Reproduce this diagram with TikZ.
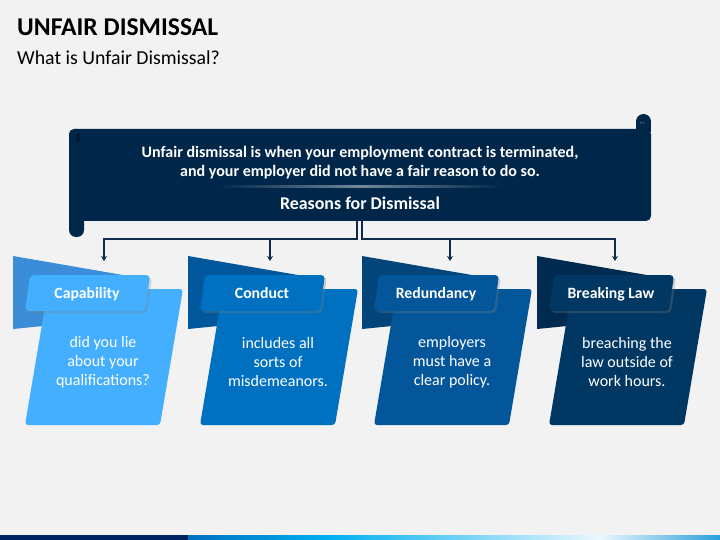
\documentclass[tikz,border=0pt]{standalone}
\usepackage{fontspec}
\setmainfont{Carlito}
\usetikzlibrary{arrows.meta,shadows}

\definecolor{bggray}{HTML}{F2F2F2}
\definecolor{navy}{HTML}{002749}
\definecolor{linenavy}{HTML}{0E2A4C}
\definecolor{backA}{HTML}{3A8DD6}
\definecolor{frontA}{HTML}{44AFFF}
\definecolor{backB}{HTML}{00579B}
\definecolor{frontB}{HTML}{0071C1}
\definecolor{backC}{HTML}{01457A}
\definecolor{frontC}{HTML}{04569A}
\definecolor{backD}{HTML}{002A4F}
\definecolor{frontD}{HTML}{003763}
\definecolor{barnavy}{HTML}{002060}
\definecolor{barblue}{HTML}{0070C0}
\definecolor{barcyan}{HTML}{00B0F0}
\definecolor{barpale}{HTML}{EAF7FD}
\definecolor{barend}{HTML}{2A9FDB}

\begin{document}
\begin{tikzpicture}[x=1pt,y=-1pt,
    conn/.style={draw=linenavy, line width=2pt, -{Stealth[length=5pt,width=6pt]}},
    lbltext/.style={anchor=base, text=white, font=\fontsize{15.7}{18}\selectfont\bfseries},
    bodytext/.style={text=white, align=center, font=\fontsize{16}{19}\selectfont},
    bantext/.style={anchor=base, text=white, font=\fontsize{16}{19}\selectfont\bfseries}]
    \fill[bggray] (0,0) rectangle (720,540);
    \useasboundingbox (0,0) rectangle (720,540);

    % title
    \node[anchor=base west, inner sep=0, font=\fontsize{25.6}{30}\selectfont\bfseries] (title) at (17,36) {UNFAIR DISMISSAL};
    \node[anchor=base west, inner sep=0, font=\fontsize{19.8}{24}\selectfont] (subtitle) at (17,65) {What is Unfair Dismissal?};

    % banner (scroll)
    \fill[navy, rounded corners=5pt] (69,129) rectangle (651,221);
    \fill[navy, rounded corners=7pt] (69,129) rectangle (84,237);
    \fill[navy] (643.5,121.5) circle (7.5);
    \fill[navy] (636,121.5) rectangle (651,132);
    \fill[black!60!navy, opacity=0.5] (78,138) ellipse (2.5 and 4.5);
    \draw[white!30!navy, line width=0.6pt] (640,124) arc[start angle=180, end angle=360, radius=2];
    \node[bantext] (intro1) at (360,158) {Unfair dismissal is when your employment contract is terminated,};
    \node[bantext] (intro2) at (360,177) {and your employer did not have a fair reason to do so.};
    \shade[left color=navy, right color=navy, middle color=white!45!navy] (217,185.5) rectangle (503,187.5);
    \node[bantext, font=\fontsize{17.9}{21}\selectfont\bfseries] (reasons) at (360,210) {Reasons for Dismissal};

    % columns
    \foreach \x/\n/\lbl/\txt/\cb/\cf in {
        13/1/Capability/{did you lie\\about your\\qualifications?}/backA/frontA,
        188/2/Conduct/{includes all\\sorts of\\misdemeanors.}/backB/frontB,
        362/3/Redundancy/{employers\\must have a\\clear policy.}/backC/frontC,
        537/4/Breaking Law/{breaching the\\law outside of\\work hours.}/backD/frontD}{
        \fill[\cb] (\x,256) -- (\x+130,278.5) -- (\x+130,316) -- (\x,329) -- cycle;
        \fill[\cf, rounded corners=3pt] (\x+35,289) -- (\x+170,289) -- (\x+147,425) -- (\x+12,425) -- cycle;
        \fill[\cf, rounded corners=4pt, drop shadow={shadow xshift=2pt, shadow yshift=-2pt, opacity=0.3}]
            (\x+17,275) -- (\x+137,275) -- (\x+132,311) -- (\x+12,311) -- cycle;
        \node[lbltext] (label\n) at (\x+74,298) {\lbl};
        \node[bodytext] (body\n) at (\x+90,362) {\txt};
    }

    % connectors
    \coordinate (stemL) at (357,221);
    \coordinate (stemR) at (362,221);
    \coordinate (barL) at (357,239);
    \coordinate (barR) at (362,239);
    \coordinate (in1) at (104,261);
    \coordinate (in2) at (270,261);
    \coordinate (in3) at (450,261);
    \coordinate (in4) at (615,261);
    \draw[conn] (stemL) -- (barL) -| (in1);
    \draw[conn] (stemR) -- (barR) -| (in4);
    \draw[conn] (barL -| in2) -- (in2);
    \draw[conn] (barR -| in3) -- (in3);

    % bottom bar
    \fill[barnavy] (0,535) rectangle (188,540);
    \shade[left color=barblue, right color=barcyan] (188,535) rectangle (330,540);
    \shade[left color=barcyan, right color=barpale] (330,535) rectangle (600,540);
    \shade[left color=barpale, right color=barend] (600,535) rectangle (720,540);
\end{tikzpicture}
\end{document}
